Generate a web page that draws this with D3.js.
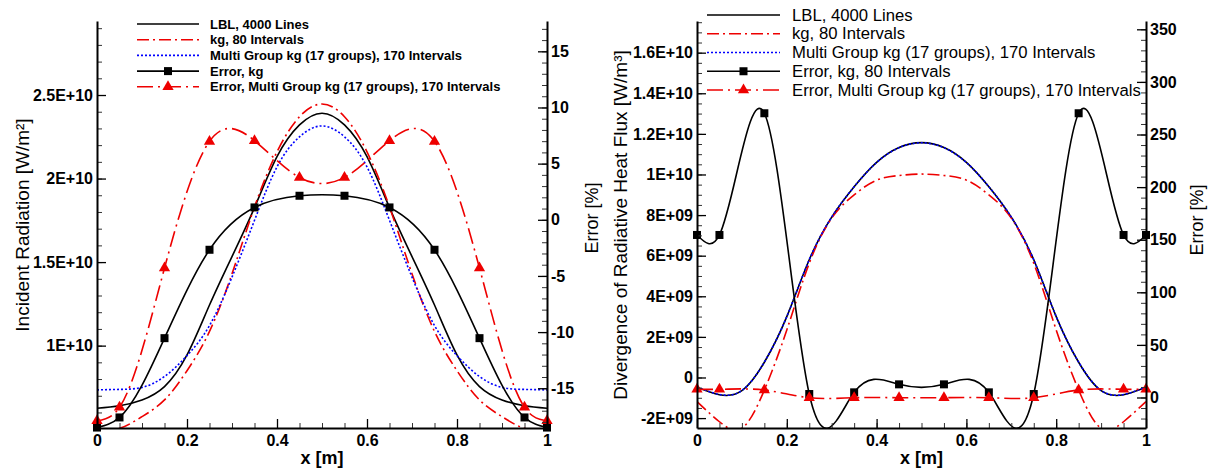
<!DOCTYPE html>
<html>
<head>
<meta charset="utf-8">
<script src="https://cdn.jsdelivr.net/npm/d3@7"></script>
<style>
  body { margin: 0; background: #fff; }
  svg text { font-family: "Liberation Sans", Arial, sans-serif; fill: #000; }
</style>
</head>
<body>
<svg id="chart" width="1211" height="470"></svg>
<script>
// x positions of the smooth curves and of the marker points
const xGrid = [0, 0.05, 0.1, 0.15, 0.2, 0.25, 0.3, 0.35, 0.4, 0.45, 0.5,
               0.55, 0.6, 0.65, 0.7, 0.75, 0.8, 0.85, 0.9, 0.95, 1];
const xMarks = [0, 0.05, 0.15, 0.25, 0.35, 0.45, 0.55, 0.65, 0.75, 0.85, 0.95, 1];

// left chart: incident radiation [W/m2]
const incLBL = [6.25e9, 6.4e9, 6.75e9, 7.55e9, 9.44e9, 1.243e10, 1.533e10, 1.826e10, 2.131e10, 2.321e10, 2.391e10,
                2.321e10, 2.131e10, 1.826e10, 1.533e10, 1.243e10, 9.44e9, 7.55e9, 6.75e9, 6.4e9, 6.25e9];
const incKg = [4.95e9, 5.05e9, 5.75e9, 6.75e9, 8.5e9, 1.085e10, 1.43e10, 1.83e10, 2.16e10, 2.37e10, 2.446e10,
               2.37e10, 2.16e10, 1.83e10, 1.43e10, 1.085e10, 8.5e9, 6.75e9, 5.75e9, 5.05e9, 4.95e9];
const incMG = [7.35e9, 7.38e9, 7.5e9, 8.15e9, 9.4e9, 1.12e10, 1.41e10, 1.75e10, 2.07e10, 2.25e10, 2.315e10,
               2.25e10, 2.07e10, 1.75e10, 1.41e10, 1.12e10, 9.4e9, 8.15e9, 7.5e9, 7.38e9, 7.35e9];
// left chart: error [%] (right axis)
const errKgInc = [-18.5, -17.6, -10.54, -2.67, 1.1, 2.14, 2.14, 1.1, -2.67, -10.54, -17.6, -18.5];
const errMGInc = [-17.9, -16.7, -4.3, 6.98, 7.04, 3.77, 3.77, 7.04, 6.98, -4.3, -16.7, -17.9];

// right chart: divergence of radiative heat flux [W/m3]
const divLBL = [-4.8e8, -8.5e8, -6.5e8, 7.5e8, 3.0e9, 5.8e9, 7.9e9, 9.4e9, 1.06e10, 1.133e10, 1.157e10,
                1.133e10, 1.06e10, 9.4e9, 7.9e9, 5.8e9, 3.0e9, 7.5e8, -6.5e8, -8.5e8, -4.8e8];
const divKg = [-1.19e9, -2.18e9, -2.5e9, -6.2e8, 2.34e9, 5.63e9, 7.85e9, 9.0e9, 9.72e9, 9.95e9, 1.002e10,
               9.95e9, 9.72e9, 9.0e9, 7.85e9, 5.63e9, 2.34e9, -6.2e8, -2.5e9, -2.18e9, -1.19e9];
const divMG = [-4.6e8, -8.4e8, -6.4e8, 7.6e8, 3.0e9, 5.8e9, 7.9e9, 9.4e9, 1.059e10, 1.132e10, 1.156e10,
               1.132e10, 1.059e10, 9.4e9, 7.9e9, 5.8e9, 3.0e9, 7.6e8, -6.4e8, -8.4e8, -4.6e8];
// right chart: error [%] (right axis)
const errKgDiv = [154.5, 154.5, 270.2, 3.3, 4.9, 12.5, 12.5, 4.9, 3.3, 270.2, 154.5, 154.5];
const errMGDiv = [7.8, 7.8, 7.1, -0.2, -0.2, -0.2, -0.2, -0.2, -0.2, 7.1, 7.8, 7.8];

// ticks
const xTicks = [0, 0.2, 0.4, 0.6, 0.8, 1];
const xTickLabels = ["0", "0.2", "0.4", "0.6", "0.8", "1"];
const incTicks = [1e10, 1.5e10, 2e10, 2.5e10];
const incTickLabels = ["1E+10", "1.5E+10", "2E+10", "2.5E+10"];
const errIncTicks = [-15, -10, -5, 0, 5, 10, 15];
const errIncTickLabels = ["-15", "-10", "-5", "0", "5", "10", "15"];
const divTicks = [-2e9, 0, 2e9, 4e9, 6e9, 8e9, 1e10, 1.2e10, 1.4e10, 1.6e10];
const divTickLabels = ["-2E+09", "0", "2E+09", "4E+09", "6E+09", "8E+09", "1E+10", "1.2E+10", "1.4E+10", "1.6E+10"];
const errDivTicks = [0, 50, 100, 150, 200, 250, 300, 350];
const errDivTickLabels = ["0", "50", "100", "150", "200", "250", "300", "350"];

const legendLeft = ["LBL, 4000 Lines", "kg, 80 Intervals", "Multi Group kg (17 groups), 170 Intervals",
                    "Error, kg", "Error, Multi Group kg (17 groups), 170 Intervals"];
const legendRight = ["LBL, 4000 Lines", "kg, 80 Intervals", "Multi Group kg (17 groups), 170 Intervals",
                     "Error, kg, 80 Intervals", "Error, Multi Group kg (17 groups), 170 Intervals"];

const RED = "#ee0000";
const styles = [
  { stroke: "#000", width: 1.6, dash: null, marker: null },
  { stroke: RED, width: 1.6, dash: "12,4,2,4", marker: null },
  { stroke: "#0000ff", width: 1.6, dash: "2,2", marker: null },
  { stroke: "#000", width: 1.6, dash: null, marker: "square" },
  { stroke: RED, width: 1.6, dash: "16,5,2,5", marker: "triangle" }
];

// natural cubic spline of y over x (like the plotting program), as a d3 curve
function curveSplineX(context) {
  let xs, ys;
  return {
    areaStart() {}, areaEnd() {},
    lineStart() { xs = []; ys = []; },
    point(x, y) { xs.push(+x); ys.push(+y); },
    lineEnd() {
      const n = xs.length;
      if (n < 3) {
        context.moveTo(xs[0], ys[0]);
        for (let i = 1; i < n; i++) context.lineTo(xs[i], ys[i]);
        return;
      }
      const h = [], M = new Array(n).fill(0);
      for (let i = 0; i < n - 1; i++) h.push(xs[i + 1] - xs[i]);
      // tridiagonal system for second derivatives
      const a = [], b = [], c = [], r = [];
      for (let i = 1; i < n - 1; i++) {
        a.push(h[i - 1]); b.push(2 * (h[i - 1] + h[i])); c.push(h[i]);
        r.push(6 * ((ys[i + 1] - ys[i]) / h[i] - (ys[i] - ys[i - 1]) / h[i - 1]));
      }
      const m = b.length;
      for (let i = 1; i < m; i++) {
        const w = a[i] / b[i - 1];
        b[i] -= w * c[i - 1]; r[i] -= w * r[i - 1];
      }
      M[m] = r[m - 1] / b[m - 1];
      for (let i = m - 2; i >= 0; i--) M[i + 1] = (r[i] - c[i] * M[i + 2]) / b[i];
      const slope = i => i < n - 1
        ? (ys[i + 1] - ys[i]) / h[i] - h[i] * (2 * M[i] + M[i + 1]) / 6
        : (ys[i] - ys[i - 1]) / h[i - 1] + h[i - 1] * (M[i - 1] + 2 * M[i]) / 6;
      context.moveTo(xs[0], ys[0]);
      for (let i = 0; i < n - 1; i++) {
        const d = h[i] / 3;
        context.bezierCurveTo(xs[i] + d, ys[i] + slope(i) * d,
                              xs[i + 1] - d, ys[i + 1] - slope(i + 1) * d,
                              xs[i + 1], ys[i + 1]);
      }
    }
  };
}

const svg = d3.select("#chart");

function drawMarker(g, type, x, y, color) {
  if (type == "square") {
    g.append("rect").attr("x", x - 4).attr("y", y - 4)
      .attr("width", 8).attr("height", 8).attr("fill", color);
  } else if (type == "triangle") {
    g.append("path").attr("d", d3.symbol(d3.symbolTriangle, 55)())
      .attr("transform", `translate(${x},${y})`).attr("fill", color);
  }
}

function drawPanel(p) {
  const g = svg.append("g");
  const x = d3.scaleLinear().domain([0, 1]).range([p.x0, p.x1]);
  const yL = d3.scaleLinear().domain(p.yLDomain).range([p.yBot, p.yTop]);
  const yR = d3.scaleLinear().domain(p.yRDomain).range([p.yBot, p.yTop]);

  g.append("clipPath").attr("id", p.id + "clip")
    .append("rect").attr("x", p.x0).attr("y", p.yTop)
    .attr("width", p.x1 - p.x0).attr("height", p.yBot - p.yTop);

  const curves = g.append("g").attr("clip-path", `url(#${p.id}clip)`);
  const line = (ys, scale, xs) => d3.line()
    .x((d, i) => x(xs[i])).y(d => scale(d))
    .curve(curveSplineX)(ys);

  const series = [
    [p.lbl, yL, xGrid], [p.kg, yL, xGrid], [p.mg, yL, xGrid],
    [p.errKg, yR, xMarks], [p.errMG, yR, xMarks]
  ];
  series.forEach((s, k) => {
    const st = styles[k];
    curves.append("path").attr("d", line(s[0], s[1], s[2]))
      .attr("fill", "none").attr("stroke", st.stroke)
      .attr("stroke-width", st.width)
      .attr("stroke-dasharray", st.dash);
  });
  series.forEach((s, k) => {
    const st = styles[k];
    if (!st.marker) return;
    s[0].forEach((v, i) => drawMarker(g, st.marker, x(s[2][i]), s[1](v), st.stroke));
  });

  // axes, ticks point inwards
  const axisStyle = sel => {
    sel.select(".domain").attr("stroke-width", 2);
    sel.selectAll(".tick line").attr("stroke-width", 1.3);
    sel.selectAll("text").attr("font-size", 16).attr("font-weight", "bold")
      .attr("font-family", null).attr("fill", "#000");
  };
  const minorStyle = sel => {
    sel.select(".domain").remove();
    sel.selectAll(".tick line").attr("stroke-width", 1).attr("stroke", "#333");
  };

  g.append("g").attr("transform", `translate(${p.x0},0)`)
    .call(d3.axisLeft(yL).tickValues(d3.range(p.yLMinor[0], p.yLMinor[1], p.yLMinor[2])).tickSize(-5).tickFormat(""))
    .call(minorStyle);
  g.append("g").attr("transform", `translate(${p.x0},0)`)
    .call(d3.axisLeft(yL).tickValues(p.yLTicks).tickSize(-9).tickSizeOuter(0).tickPadding(4)
      .tickFormat((d, i) => p.yLLabels[i]))
    .call(axisStyle);

  g.append("g").attr("transform", `translate(${p.x1},0)`)
    .call(d3.axisRight(yR).tickValues(d3.range(p.yRMinor[0], p.yRMinor[1], p.yRMinor[2])).tickSize(-5).tickFormat(""))
    .call(minorStyle);
  g.append("g").attr("transform", `translate(${p.x1},0)`)
    .call(d3.axisRight(yR).tickValues(p.yRTicks).tickSize(-9).tickSizeOuter(0).tickPadding(4)
      .tickFormat((d, i) => p.yRLabels[i]))
    .call(axisStyle);

  g.append("g").attr("transform", `translate(0,${p.yBot})`)
    .call(d3.axisBottom(x).tickValues(d3.range(0.05, 1, 0.05)).tickSize(-5).tickFormat(""))
    .call(minorStyle);
  g.append("g").attr("transform", `translate(0,${p.yBot})`)
    .call(d3.axisBottom(x).tickValues(xTicks).tickSize(-9).tickSizeOuter(0).tickPadding(7)
      .tickFormat((d, i) => xTickLabels[i]))
    .call(axisStyle);

  // axis titles
  g.append("text").attr("x", (p.x0 + p.x1) / 2).attr("y", 458)
    .attr("text-anchor", "middle").attr("dominant-baseline", "central")
    .attr("font-size", 18).attr("font-weight", "bold").text("x [m]");
  g.append("text").attr("transform", `translate(${p.yLTitleX},${p.yLTitleY}) rotate(-90)`)
    .attr("text-anchor", "middle").attr("dominant-baseline", "central")
    .attr("font-size", 19).text(p.yLTitle);
  g.append("text").attr("transform", `translate(${p.yRTitleX},${p.yRTitleY}) rotate(-90)`)
    .attr("text-anchor", "middle").attr("dominant-baseline", "central")
    .attr("font-size", 18).text("Error [%]");

  // legend
  const lg = g.append("g");
  p.legend.forEach((name, k) => {
    const st = styles[k];
    const ly = p.legY0 + k * p.legDy;
    lg.append("line").attr("x1", p.legX0).attr("x2", p.legX1).attr("y1", ly).attr("y2", ly)
      .attr("stroke", st.stroke).attr("stroke-width", st.width).attr("stroke-dasharray", st.dash);
    if (st.marker) drawMarker(lg, st.marker, (p.legX0 + p.legX1) / 2, ly, st.stroke);
    lg.append("text").attr("x", p.legTx).attr("y", ly).attr("dominant-baseline", "central")
      .attr("font-size", p.legFont).attr("font-weight", p.legWeight).text(name);
  });
}

drawPanel({
  id: "left", x0: 97, x1: 547, yTop: 21, yBot: 428,
  yLDomain: [5.07e9, 2.943e10], yRDomain: [-18.54, 17.7],
  yLTicks: incTicks, yLLabels: incTickLabels, yLMinor: [6e9, 2.95e10, 1e9],
  yRTicks: errIncTicks, yRLabels: errIncTickLabels, yRMinor: [-18, 18, 1],
  lbl: incLBL, kg: incKg, mg: incMG, errKg: errKgInc, errMG: errMGInc,
  yLTitle: "Incident Radiation [W/m\u00B2]", yLTitleX: 22, yLTitleY: 225,
  yRTitleX: 592, yRTitleY: 218,
  legend: legendLeft, legX0: 137, legX1: 199, legTx: 210, legY0: 24, legDy: 15.7,
  legFont: 13, legWeight: "bold"
});

drawPanel({
  id: "right", x0: 697, x1: 1146, yTop: 21, yBot: 428,
  yLDomain: [-2.488e9, 1.756e10], yRDomain: [-29, 357.9],
  yLTicks: divTicks, yLLabels: divTickLabels, yLMinor: [-2e9, 1.76e10, 5e8],
  yRTicks: errDivTicks, yRLabels: errDivTickLabels, yRMinor: [-20, 358, 10],
  lbl: divLBL, kg: divKg, mg: divMG, errKg: errKgDiv, errMG: errMGDiv,
  yLTitle: "Divergence of Radiative Heat Flux [W/m\u00B3]", yLTitleX: 620, yLTitleY: 225,
  yRTitleX: 1197, yRTitleY: 220,
  legend: legendRight, legX0: 707, legX1: 780, legTx: 792, legY0: 15, legDy: 18.75,
  legFont: 16.7, legWeight: "normal"
});
</script>
</body>
</html>
